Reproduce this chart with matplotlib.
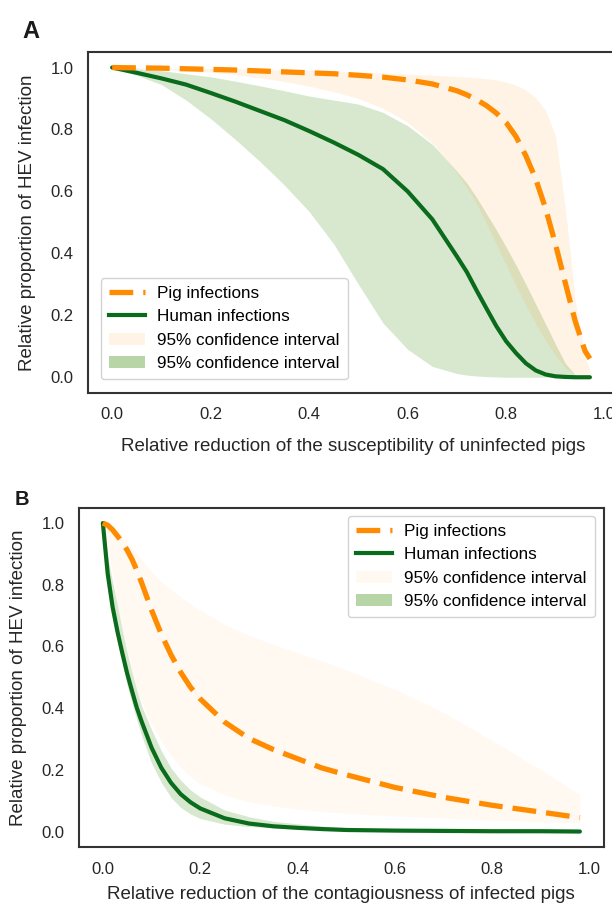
import matplotlib
matplotlib.use("Agg")
import matplotlib.pyplot as plt
from matplotlib.lines import Line2D
from matplotlib.patches import Patch

plt.rcParams['font.family'] = ['Liberation Sans', 'DejaVu Sans']

# ---- panel A: reduction of susceptibility of uninfected pigs ----
xa = [0, 0.05, 0.1, 0.15, 0.2, 0.25, 0.3, 0.35, 0.4, 0.45, 0.5, 0.55, 0.6, 0.65,
      0.7, 0.72, 0.74, 0.76, 0.78, 0.8, 0.82, 0.84, 0.86, 0.88, 0.9, 0.92, 0.94,
      0.96, 0.97]
pig_a = [1.0, 0.999, 0.998, 0.996, 0.994, 0.992, 0.989, 0.986, 0.983, 0.980, 0.975,
         0.969, 0.960, 0.947, 0.925, 0.912, 0.896, 0.877, 0.853, 0.822, 0.777, 0.715,
         0.640, 0.545, 0.430, 0.305, 0.182, 0.085, 0.060]
pig_a_hi = [1.0, 1.0, 0.999, 0.998, 0.997, 0.996, 0.994, 0.992, 0.990, 0.988, 0.985,
            0.982, 0.979, 0.975, 0.971, 0.969, 0.967, 0.964, 0.960, 0.953, 0.943, 0.928,
            0.902, 0.862, 0.780, 0.550, 0.250, 0.065, 0.025]
pig_a_lo = [1.0, 0.998, 0.995, 0.990, 0.985, 0.977, 0.967, 0.955, 0.940, 0.922, 0.900,
            0.868, 0.823, 0.756, 0.660, 0.612, 0.560, 0.495, 0.430, 0.362, 0.295, 0.232,
            0.172, 0.118, 0.070, 0.030, 0.008, 0.001, 0.0]
hum_a = [1.0, 0.983, 0.965, 0.945, 0.918, 0.890, 0.860, 0.830, 0.795, 0.758, 0.718,
         0.672, 0.600, 0.510, 0.390, 0.340, 0.280, 0.222, 0.165, 0.116, 0.078, 0.045,
         0.022, 0.009, 0.003, 0.001, 0.0, 0.0, 0.0]
hum_a_hi = [1.0, 0.996, 0.990, 0.980, 0.970, 0.956, 0.941, 0.925, 0.908, 0.895, 0.882,
            0.855, 0.812, 0.752, 0.665, 0.627, 0.580, 0.528, 0.476, 0.420, 0.362, 0.300,
            0.236, 0.172, 0.107, 0.045, 0.008, 0.0, 0.0]
hum_a_lo = [1.0, 0.975, 0.945, 0.895, 0.835, 0.768, 0.697, 0.620, 0.535, 0.430, 0.300,
            0.175, 0.090, 0.035, 0.012, 0.007, 0.004, 0.002, 0.001, 0.0, 0.0, 0.0,
            0.0, 0.0, 0.0, 0.0, 0.0, 0.0, 0.0]

# ---- panel B: reduction of contagiousness of infected pigs ----
xb = [0, 0.01, 0.02, 0.03, 0.04, 0.05, 0.06, 0.07, 0.08, 0.1, 0.12, 0.14, 0.16, 0.18,
      0.2, 0.25, 0.3, 0.35, 0.4, 0.45, 0.5, 0.6, 0.7, 0.8, 0.9, 0.98]
pig_b = [1.0, 0.993, 0.978, 0.958, 0.938, 0.912, 0.882, 0.846, 0.805, 0.718, 0.640,
         0.573, 0.516, 0.468, 0.430, 0.355, 0.302, 0.266, 0.236, 0.206, 0.184, 0.143,
         0.111, 0.085, 0.063, 0.045]
pig_b_hi = [1.0, 0.998, 0.990, 0.975, 0.958, 0.940, 0.920, 0.900, 0.880, 0.842, 0.810,
            0.785, 0.760, 0.738, 0.718, 0.672, 0.636, 0.607, 0.580, 0.553, 0.525, 0.461,
            0.386, 0.295, 0.200, 0.120]
pig_b_lo = [1.0, 0.940, 0.830, 0.735, 0.655, 0.585, 0.520, 0.465, 0.422, 0.350, 0.293,
            0.247, 0.208, 0.178, 0.155, 0.118, 0.096, 0.083, 0.073, 0.065, 0.059, 0.051,
            0.044, 0.038, 0.032, 0.028]
hum_b = [1.0, 0.835, 0.728, 0.648, 0.578, 0.512, 0.455, 0.400, 0.355, 0.272, 0.207,
         0.158, 0.121, 0.095, 0.075, 0.043, 0.026, 0.017, 0.012, 0.008, 0.005, 0.003,
         0.002, 0.001, 0.001, 0.0]
hum_b_hi = [1.0, 0.890, 0.810, 0.732, 0.652, 0.578, 0.515, 0.458, 0.405, 0.330, 0.262,
            0.206, 0.166, 0.135, 0.112, 0.070, 0.048, 0.033, 0.025, 0.018, 0.013, 0.008,
            0.005, 0.003, 0.002, 0.001]
hum_b_lo = [1.0, 0.810, 0.715, 0.630, 0.550, 0.474, 0.415, 0.360, 0.310, 0.222, 0.160,
            0.110, 0.078, 0.057, 0.042, 0.024, 0.016, 0.012, 0.008, 0.006, 0.004, 0.002,
            0.001, 0.0, 0.0, 0.0]

yticks = [0.0, 0.2, 0.4, 0.6, 0.8, 1.0]
xticks = [0.0, 0.2, 0.4, 0.6, 0.8, 1.0]
labels = ['Pig infections', 'Human infections', '95% confidence interval', '95% confidence interval']

ORANGE = '#ff8c00'
GREEN = '#0b6b1d'
GFILL = '#7fb35f'
DASH = (4.5, 1.9)


def draw(ax, x, pig, pig_lo, pig_hi, hum, hum_lo, hum_hi, orange_alpha, xlabel, xlabelpad):
    ax.fill_between(x, hum_lo, hum_hi, color=GFILL, alpha=0.3, lw=0)
    ax.fill_between(x, pig_lo, pig_hi, color=ORANGE, alpha=orange_alpha, lw=0)
    ax.plot(x, hum, color=GREEN, lw=3.0, solid_capstyle='round')
    ax.plot(x, pig, color=ORANGE, lw=3.8, dashes=DASH)
    ax.set_xlim(-0.049, 1.029)
    ax.set_ylim(-0.05, 1.05)
    ax.set_xticks(xticks)
    ax.set_yticks(yticks)
    ax.tick_params(length=0, pad=10.5, labelsize=12, colors='0.15')
    for s in ax.spines.values():
        s.set_color('0.2')
        s.set_linewidth(1.5)
    ax.set_xlabel(xlabel, fontsize=13.5, color='0.15', labelpad=xlabelpad)
    ax.set_ylabel('Relative proportion of HEV infection', fontsize=13.5, color='0.15',
                  labelpad=10)
    handles = [Line2D([], [], color=ORANGE, lw=3.8, dashes=DASH),
               Line2D([], [], color=GREEN, lw=3.0),
               Patch(facecolor=ORANGE, alpha=orange_alpha, lw=0),
               Patch(facecolor=GFILL, alpha=0.55, lw=0)]
    return handles


fig = plt.figure(figsize=(6.12, 9.07), dpi=100)
ax1 = fig.add_axes([0.1438, 0.5670, 0.8676, 0.3756])
ax2 = fig.add_axes([0.1291, 0.0662, 0.8574, 0.3741])

h1 = draw(ax1, xa, pig_a, pig_a_lo, pig_a_hi, hum_a, hum_a_lo, hum_a_hi, 0.1,
          'Relative reduction of the susceptibility of uninfected pigs', 11)
h2 = draw(ax2, xb, pig_b, pig_b_lo, pig_b_hi, hum_b, hum_b_lo, hum_b_hi, 0.05,
          'Relative reduction of the contagiousness of infected pigs', 7)

leg_kw = dict(fontsize=12.3, handlelength=2.1, handletextpad=0.75, labelspacing=0.5,
              borderaxespad=0, fancybox=True, edgecolor='0.8', framealpha=0.85,
              borderpad=0.45)
ax1.legend(h1, labels, loc='lower left', bbox_to_anchor=(0.0245, 0.040), **leg_kw)
ax2.legend(h2, labels, loc='upper right', bbox_to_anchor=(0.9825, 0.9755), **leg_kw)

fig.text(22 / 612, 1 - 38 / 907, 'A', fontsize=17, fontweight='bold', color='0.1')
fig.text(15 / 612, 1 - 505 / 907, 'B', fontsize=14.5, fontweight='bold', color='0.1')

fig.savefig('out.png', dpi=100)
